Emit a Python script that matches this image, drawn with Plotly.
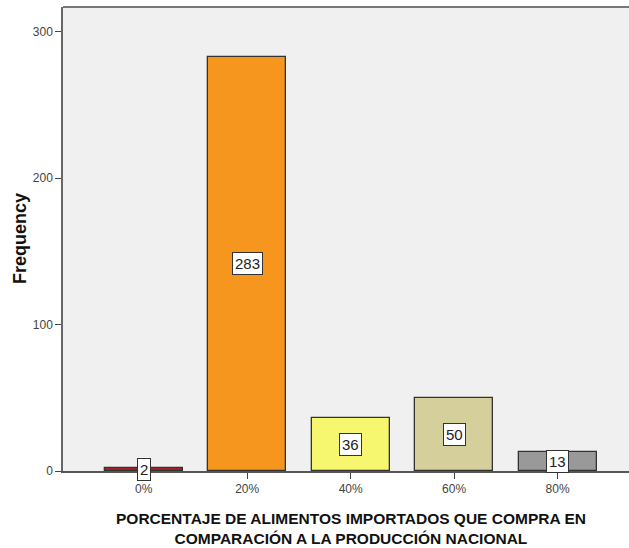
import plotly.graph_objects as go

categories = ["0%", "20%", "40%", "60%", "80%"]
frequency = [2, 283, 36, 50, 13]
bar_colors = ["#a5222a", "#f7961e", "#f7f76f", "#d4cf9b", "#999999"]
y_ticks = [0, 100, 200, 300]

x_title = "<b>PORCENTAJE DE ALIMENTOS IMPORTADOS QUE COMPRA EN<br>COMPARACIÓN A LA PRODUCCIÓN NACIONAL</b>"
y_title = "<b>Frequency</b>"

x_pos = list(range(len(categories)))
FONT = "Liberation Sans, Arial, sans-serif"

fig = go.Figure()
fig.add_trace(go.Bar(
    x=x_pos, y=frequency, width=0.755,
    marker=dict(color=bar_colors, line=dict(color="#333333", width=1.3)),
    hoverinfo="x+y",
))

for xi, v in zip(x_pos, frequency):
    fig.add_annotation(
        x=xi, y=v / 2, text=str(v), showarrow=False,
        font=dict(family=FONT, size=15, color="#222"),
        bgcolor="white", bordercolor="#333", borderwidth=1, borderpad=2,
    )

# axis titles
fig.add_annotation(
    xref="paper", yref="paper", x=0.509, y=0, yshift=-57,
    xanchor="center", yanchor="middle", showarrow=False,
    text=x_title, font=dict(family=FONT, size=15.5, color="#111"),
)
fig.add_annotation(
    xref="paper", yref="paper", x=0, y=0.5, xshift=-43,
    xanchor="center", yanchor="middle", showarrow=False, textangle=-90,
    text=y_title, font=dict(family=FONT, size=18, color="#111"),
)

fig.update_layout(
    width=629, height=548,
    margin=dict(l=63, r=0, t=7, b=77, autoexpand=False),
    paper_bgcolor="white", plot_bgcolor="#f0f0f0",
    font=dict(family=FONT, color="#333"),
    showlegend=False, bargap=0,
)
fig.update_xaxes(
    range=[-0.78, 4.69], automargin=False,
    tickmode="array", tickvals=x_pos, ticktext=categories,
    ticks="outside", ticklen=6, tickcolor="#444", tickwidth=1,
    tickfont=dict(size=12, color="#444"),
    showgrid=False, zeroline=False,
    showline=True, linecolor="#555", linewidth=1.5,
)
fig.update_yaxes(
    range=[0, 317], automargin=False,
    tickmode="array", tickvals=y_ticks,
    ticks="outside", ticklen=6, tickcolor="#444", tickwidth=1,
    tickfont=dict(size=12, color="#444"),
    showgrid=False, zeroline=False,
    showline=True, linecolor="#666", linewidth=1.5, mirror=False,
)
# top border line of the plot area
fig.add_shape(type="line", xref="paper", yref="paper", x0=0, x1=1, y0=1, y1=1,
              line=dict(color="#777", width=2))

fig.write_html(
    "out.html",
    config={"displayModeBar": False},
    post_script="document.body.style.margin='0';document.body.style.overflow='hidden';",
)
